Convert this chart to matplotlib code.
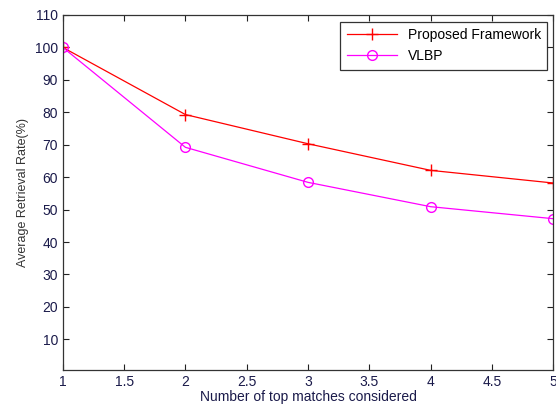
import matplotlib
matplotlib.use("Agg")
import matplotlib.pyplot as plt

x = [1, 2, 3, 4, 5]
proposed = [100, 79.3, 70.3, 62.1, 58.2]
vlbp = [100, 69.2, 58.4, 50.9, 47.2]
xticks = [1, 1.5, 2, 2.5, 3, 3.5, 4, 4.5, 5]
xticklabels = ["1", "1.5", "2", "2.5", "3", "3.5", "4", "4.5", "5"]
yticks = [10, 20, 30, 40, 50, 60, 70, 80, 90, 100, 110]

plt.rcParams['font.family'] = ['Liberation Sans', 'DejaVu Sans']
fig = plt.figure(figsize=(5.56, 4.05), dpi=100)
ax = fig.add_axes([0.113, 0.086, 0.882, 0.877])
ax.plot(x, proposed, color='red', marker='+', markersize=8, linewidth=0.9, label='Proposed Framework')
ax.plot(x, vlbp, color='magenta', marker='o', markerfacecolor='none', markersize=7, linewidth=0.9, label='VLBP')
ax.set_xlim(1, 5)
ax.set_ylim(0.5, 110)
ax.set_xticks(xticks)
ax.set_xticklabels(xticklabels)
ax.set_yticks(yticks)
ax.tick_params(direction='in', top=True, right=True, labelsize=10, colors='#222222', labelcolor='#1a1a4a', length=4)
for s in ax.spines.values():
    s.set_color('#333333')
    s.set_linewidth(0.9)
ax.set_xlabel('Number of top matches considered', fontsize=10, color='#1a1a4a', labelpad=1)
ax.set_ylabel('Average Retrieval Rate(%)', fontsize=9, color='#333333', labelpad=4)
leg = ax.legend(loc='upper right', fontsize=10, frameon=True, fancybox=False, edgecolor='black', borderpad=0.45, handlelength=3.6, borderaxespad=0, bbox_to_anchor=(0.988, 0.98))
leg.get_frame().set_linewidth(0.9)
fig.savefig('out.png', dpi=100)
